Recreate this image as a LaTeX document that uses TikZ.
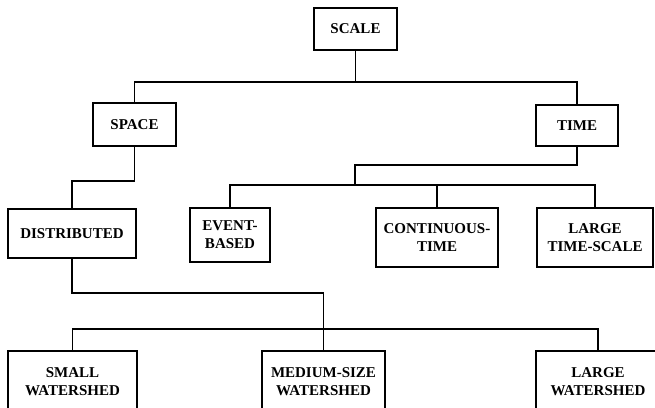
\documentclass[tikz,border=0pt]{standalone}
\usepackage{fontspec}
\setmainfont{Liberation Serif}
\begin{document}
\begin{tikzpicture}[x=1pt,y=-1pt,
  box/.style={draw,line width=1.3pt,inner sep=0pt,align=center,
    font=\bfseries\fontsize{15}{18}\selectfont},
  link/.style={line width=1.3pt}]
\useasboundingbox (0,0) rectangle (655,407);
\clip (0,0) rectangle (655,407);
% nodes
\node[box,minimum width=83pt,minimum height=42pt] (scale) at (355.5,29) {SCALE};
\node[box,minimum width=83pt,minimum height=43pt] (space) at (134.5,124.5) {SPACE};
\node[box,minimum width=82pt,minimum height=41pt] (time) at (577,125.5) {TIME};
\node[box,minimum width=128pt,minimum height=49pt] (dist) at (72,233.5) {DISTRIBUTED};
\node[box,minimum width=80pt,minimum height=54pt] (event) at (230,235) {EVENT-\\BASED};
\node[box,minimum width=122pt,minimum height=59pt] (cont) at (437,237.5) {CONTINUOUS-\\TIME};
\node[box,minimum width=116pt,minimum height=59pt] (lts) at (595,237.5) {LARGE\\TIME-SCALE};
\node[box,minimum width=129pt,minimum height=62pt] (small) at (72.5,382) {SMALL\\WATERSHED};
\node[box,minimum width=123pt,minimum height=62pt] (medium) at (323.5,382) {MEDIUM-SIZE\\WATERSHED};
\node[box,minimum width=124pt,minimum height=62pt] (largews) at (598,382) {LARGE\\WATERSHED};
% bus levels
\coordinate (busA) at (0,82);
\coordinate (busB) at (0,181);
\coordinate (busC) at (0,165);
\coordinate (tj) at (355,185);
\coordinate (busD) at (0,185);
\coordinate (busE) at (0,293);
\coordinate (busF) at (0,329);
% connectors
\draw[link] (scale.south) -- (scale.south |- busA);
\draw[link] (space.north) -- (space.north |- busA) -| (time.north);
\draw[link] (space.south) -- (space.south |- busB) -| (dist.north);
\draw[link] (time.south) -- (time.south |- busC) -| (tj);
\draw[link] (event.north) -- (event.north |- busD) -| (lts.north);
\draw[link] (cont.north) -- (cont.north |- busD);
\draw[link] (dist.south) -- (dist.south |- busE) -| (medium.north);
\draw[link] (small.north) -- (small.north |- busF) -| (largews.north);
\end{tikzpicture}
\end{document}
